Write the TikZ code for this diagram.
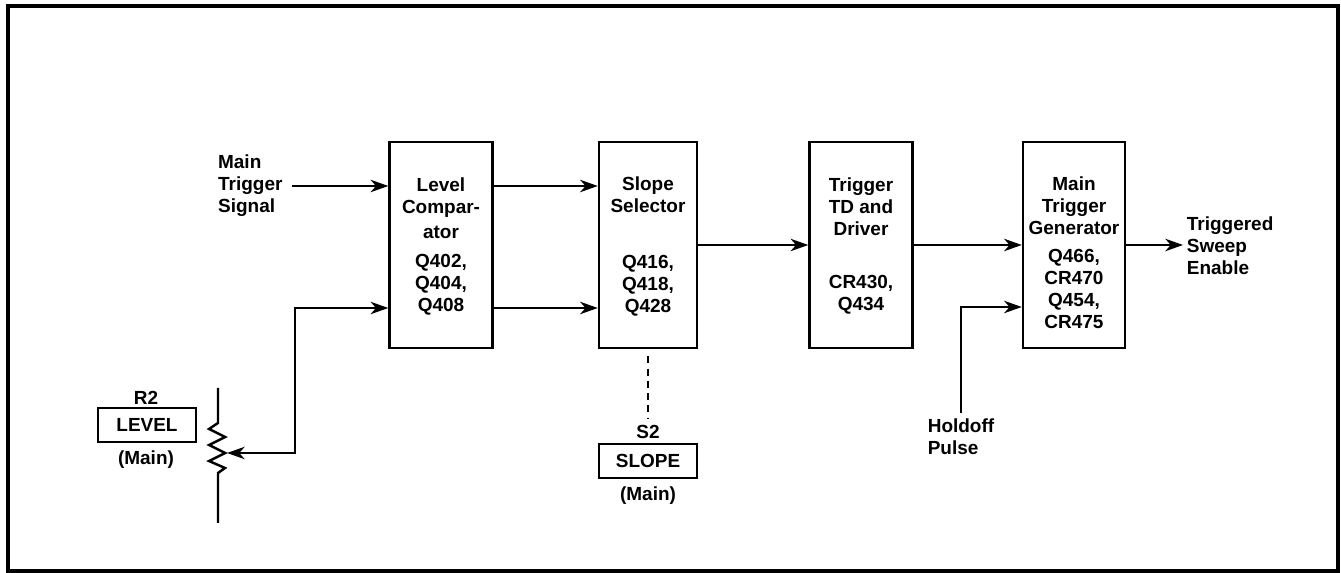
\documentclass[tikz,border=0pt]{standalone}
\usepackage{fontspec}
\setmainfont{Liberation Sans}
\usetikzlibrary{arrows.meta}

\begin{document}
\begin{tikzpicture}[x=0.02cm,y=-0.02cm,
		every node/.style={font=\bfseries\fontsize{10.8}{12.5}\selectfont},
		block/.style={draw,line width=1.4pt,minimum width=2.06cm,minimum height=4.12cm},
		txt/.style={align=center,inner sep=0pt},
		knob/.style={draw,line width=1.2pt,minimum width=1.96cm,minimum height=0.68cm,inner sep=0pt},
		arr/.style={line width=1.4pt,-{Stealth[length=10pt,width=7pt,inset=3pt]}},
		arrboth/.style={line width=1.4pt,{Stealth[length=10pt,width=7pt,inset=3pt]}-{Stealth[length=10pt,width=7pt,inset=3pt]}}]
			\useasboundingbox (0,0) rectangle (1341,573);
			\draw[line width=2pt] (8,6) rectangle (1338,571);
			% blocks
			\node[block] (lc) at (441,245) {};
			\node[block,minimum width=1.96cm] (ss) at (648,245) {};
			\node[block] (td) at (861,245) {};
			\node[block,minimum width=2.04cm] (mtg) at (1074,245) {};
			\node[txt] (lct) at (441,246.5) {Level\\Compar-\\[1.7pt]ator\\[4.5pt]Q402,\\Q404,\\Q408};
			\node[txt] (sst) at (648,246.5) {Slope\\Selector\\[19pt]Q416,\\Q418,\\Q428};
			\node[txt] (tdt) at (861,246) {Trigger\\TD and\\Driver\\[18pt]CR430,\\Q434};
			\node[txt] (mtgt) at (1074,253) {Main\\Trigger\\Generator\\[3.4pt]Q466,\\CR470\\Q454,\\CR475};
			% inputs and outputs
			\node[align=left,anchor=west,inner xsep=5pt] (mts) at (209,186) {Main\\Trigger\\Signal};
			\node[align=left,inner sep=3pt] (hp) at (961,437) {Holdoff\\Pulse};
			\node[align=left,anchor=west,inner xsep=2pt] (tse) at (1183,246) {Triggered\\Sweep\\Enable};
			% front panel controls
			\node (r2) at (146,398) {R2};
			\node[knob] (lvl) at (147,425) {LEVEL};
			\node (lvlm) at (146,460) {(Main)};
			\node (s2) at (648,432) {S2};
			\node[knob] (slp) at (648,461) {SLOPE};
			\node (slpm) at (648,496) {(Main)};
			\coordinate (r2top) at (218,388);
			\coordinate (r2bot) at (218,523);
			\coordinate (wiper) at (227,453);
			\coordinate (bend) at (295,308);
			\draw[line width=1.4pt] (r2top) -- (218,423) -- (209,429) -- (225,437) -- (209,445)
				-- (225,453) -- (209,461) -- (225,468) -- (218,473) -- (r2bot);
			\draw[arrboth] (wiper) -| (bend) -- (lc.west |- bend);
			\draw[arr] (mts.east) -- (mts.east -| lc.west);
			\draw[arr] (lc.east |- mts.east) -- (ss.west |- mts.east);
			\draw[arr] (lc.east |- bend) -- (ss.west |- bend);
			\draw[arr] (ss.east) -- (td.west);
			\draw[arr] (td.east) -- (mtg.west);
			\draw[arr] (hp.north) |- (mtg.west |- 0,307);
			\draw[arr] (mtg.east) -- (mtg.east -| tse.west);
			\draw[line width=1.4pt,dash pattern=on 4pt off 3pt] ([yshift=-4pt]ss.south) -- (s2.north);
		\end{tikzpicture}
\end{document}
